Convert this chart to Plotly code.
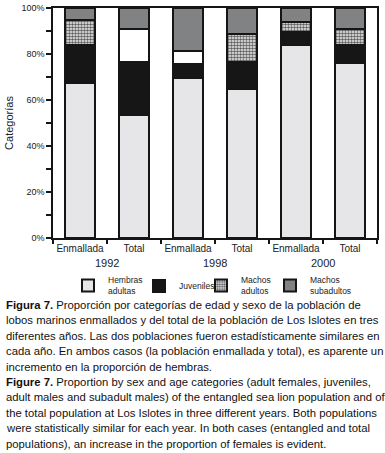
import plotly.graph_objects as go

# ---- data ----
categories = ["E1992", "T1992", "E1998", "T1998", "E2000", "T2000"]
tick_labels = ["Enmallada", "Total", "Enmallada", "Total", "Enmallada", "Total"]
years = ["1992", "1998", "2000"]
y_tick_values = [0, 20, 40, 60, 80, 100]
y_tick_labels = ["0%", "20%", "40%", "60%", "80%", "100%"]

hembras_adultas = [67.2, 53.3, 69.4, 64.6, 83.7, 75.9]
juveniles = [16.8, 23.4, 6.4, 11.9, 5.7, 7.8]
machos_adultos = [10.6, 0, 0, 12.0, 4.6, 7.0]
sin_clasificar = [0, 14.2, 5.5, 0, 0, 0]
machos_subadultos = [5.4, 9.1, 18.7, 11.5, 6.0, 9.3]

caption_lines = [
    "<b>Figura 7.</b> Proporción por categorías de edad y sexo de la población de",
    "lobos marinos enmallados y del total de la población de Los Islotes en tres",
    "diferentes años. Las dos poblaciones fueron estadísticamente similares en",
    "cada año. En ambos casos (la población enmallada y total), es aparente un",
    "incremento en la proporción de hembras.",
    "<b>Figure 7.</b> Proportion by sex and age categories (adult females, juveniles,",
    "adult males and subadult males) of the entangled sea lion population and of",
    "the total population at Los Islotes in three different years. Both populations",
    "were statistically similar for each year. In both cases (entangled and total",
    "populations), an increase in the proportion of females is evident.",
]

W, H = 385, 453
ML, MR, MT, MB = 53, 8, 8, 215
PW = W - ML - MR
PH = H - MT - MB

line = dict(color="#151515", width=2)
fig = go.Figure()
fig.add_bar(x=categories, y=hembras_adultas, name="Hembras<br>adultas", legend="legend",
            marker=dict(color="#e6e6e9", line=line))
fig.add_bar(x=categories, y=juveniles, name="Juveniles", legend="legend2",
            marker=dict(color="#161616", line=line))
fig.add_bar(x=categories, y=machos_adultos, name="Machos<br>adultos", legend="legend3",
            marker=dict(color="#ffffff", line=line,
                        pattern=dict(shape=".", fgcolor="#5e5e5e", bgcolor="#f4f4f4",
                                     size=3, solidity=0.55, fillmode="replace")))
fig.add_bar(x=categories, y=sin_clasificar, name="", showlegend=False,
            marker=dict(color="#ffffff", line=line))
fig.add_bar(x=categories, y=machos_subadultos, name="Machos<br>subadultos", legend="legend4",
            marker=dict(color="#808284", line=line))

for i, yr in enumerate(years):
    fig.add_annotation(x=2 * i + 0.5, xref="x", y=-25 / PH, yref="paper",
                       text=yr, showarrow=False, yanchor="middle",
                       font=dict(family="Liberation Sans", size=11, color="#222"))

y0 = 305
for i, t in enumerate(caption_lines):
    ypix = y0 + i * 15.4
    fig.add_annotation(x=(4 - ML) / PW, xref="paper", y=1 - (ypix - MT) / PH,
                       yref="paper", text=t, showarrow=False, xanchor="left",
                       yanchor="middle",
                       font=dict(family="Liberation Sans", size=11.3, color="#111"))

legend_common = dict(orientation="h", xref="container", yref="container",
                     yanchor="middle", font=dict(size=8.5, color="#222"),
                     itemwidth=30, bgcolor="rgba(0,0,0,0)")
legend_left_px = [68, 139, 201, 270]
legend_y = 1 - 286 / H

layout_legends = {}
for k, px in enumerate(legend_left_px):
    key = "legend" if k == 0 else f"legend{k + 1}"
    layout_legends[key] = dict(legend_common, x=px / W, xanchor="left", y=legend_y)

fig.update_layout(
    width=W, height=H,
    margin=dict(l=ML, r=MR, t=MT, b=MB, autoexpand=False),
    barmode="stack", bargap=0.44,
    paper_bgcolor="white", plot_bgcolor="white",
    font=dict(family="Liberation Sans", color="#222"),
    showlegend=True,
    xaxis=dict(type="category", tickmode="array", tickvals=categories, ticktext=tick_labels,
               tickson="boundaries", ticks="outside", ticklen=4, tickwidth=1.5,
               tickangle=0, automargin=False,
               tickcolor="#151515", showline=True, linecolor="#151515", linewidth=1.5,
               mirror=True, showgrid=False, tickfont=dict(size=10, color="#222"),
               range=[-0.5, 5.5]),
    yaxis=dict(range=[0, 100], tickmode="array", tickvals=y_tick_values, ticktext=y_tick_labels,
               ticks="outside", ticklen=5, tickwidth=1.5, tickcolor="#151515",
               showline=True, linecolor="#151515", linewidth=1.5, mirror=True,
               showgrid=False, zeroline=False, tickfont=dict(size=9, color="#222"),
               automargin=False,
               minor=dict(tickvals=[10, 30, 50, 70, 90], ticks="outside", ticklen=5,
                          tickwidth=1.5, tickcolor="#151515"),
               title=dict(text="Categorías", font=dict(size=11, color="#222"), standoff=6)),
    **layout_legends,
)

fig.write_html("out.html", config={"displayModeBar": False},
               post_script="document.body.style.margin='0';")
